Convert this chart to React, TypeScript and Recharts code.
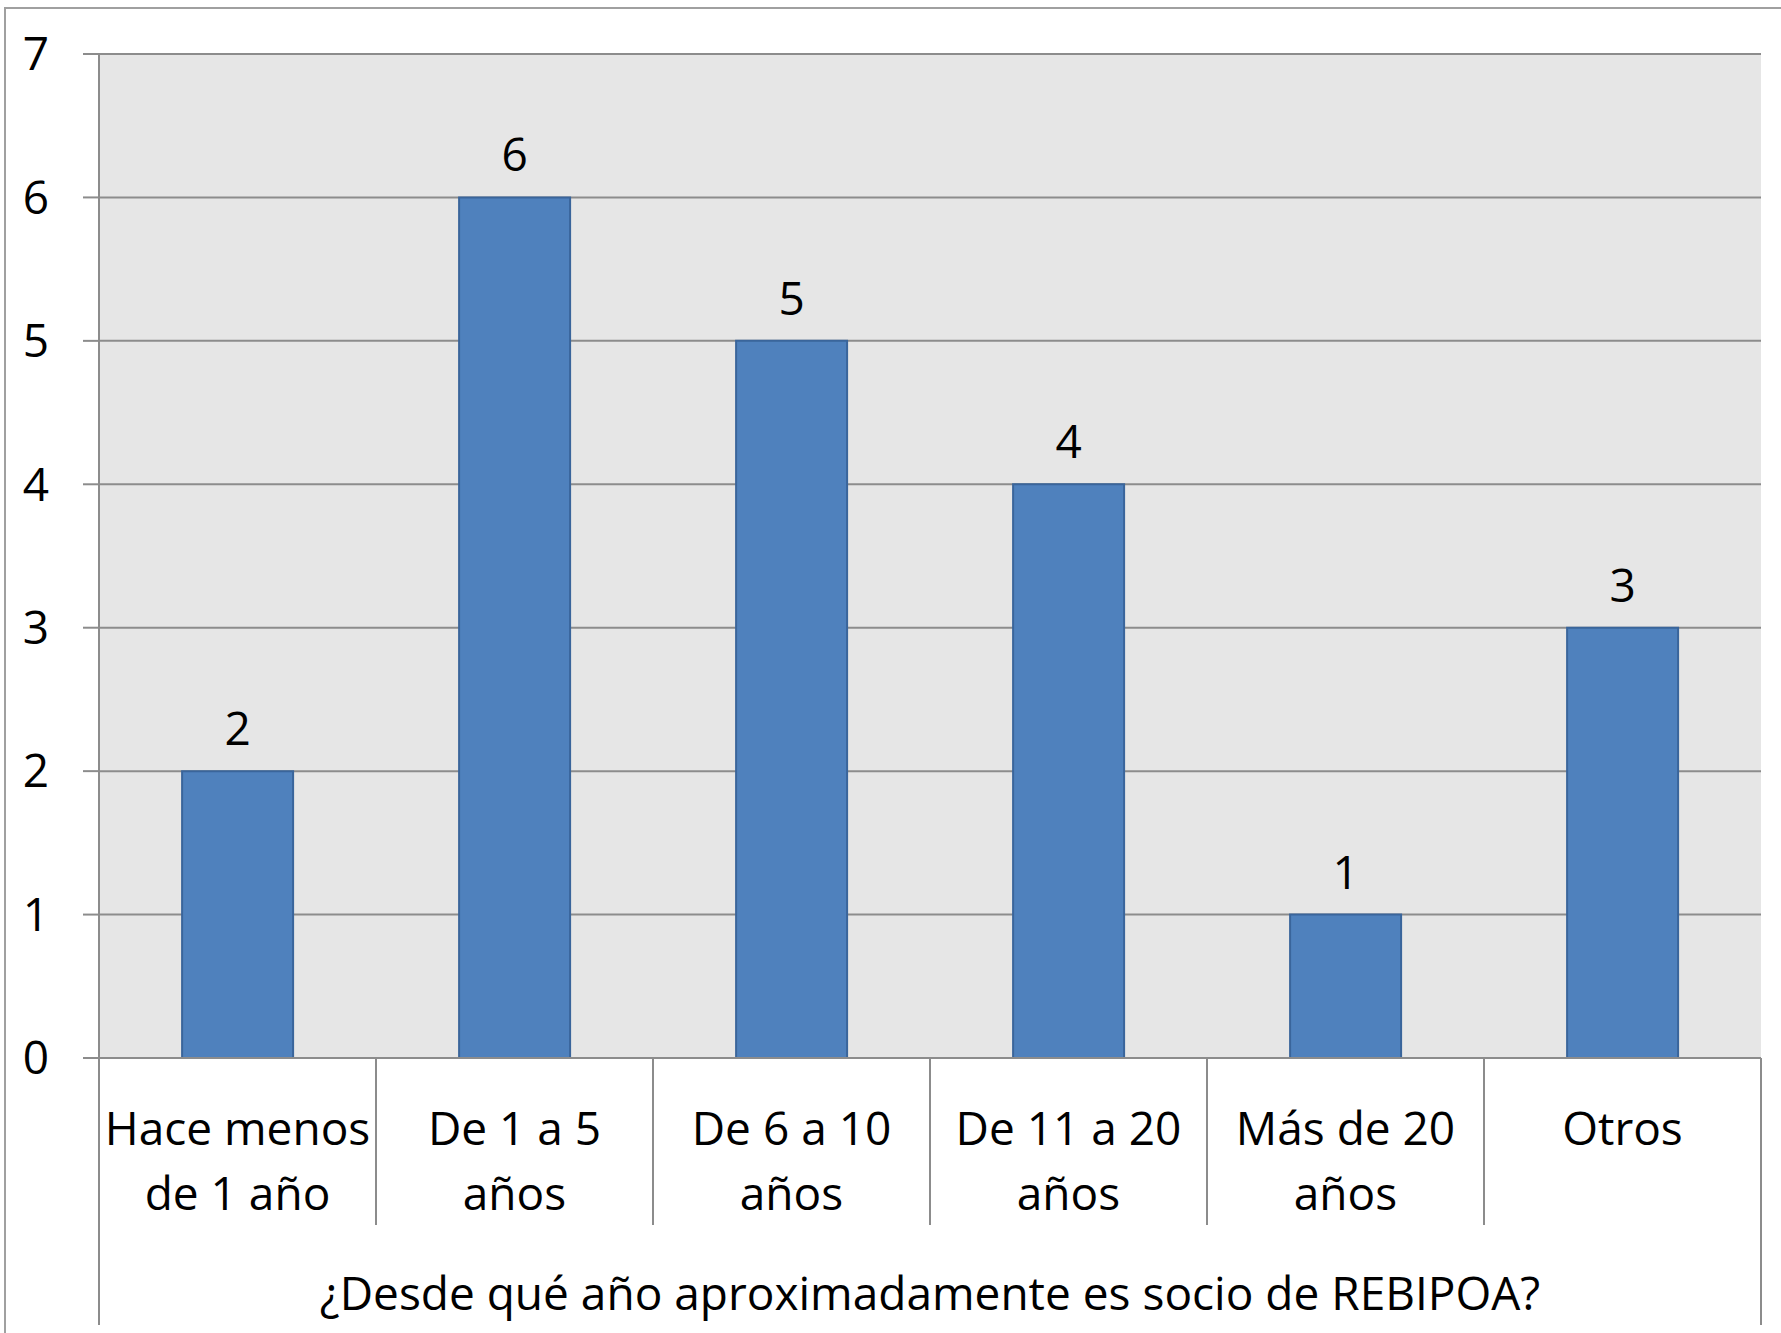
import { BarChart, Bar, XAxis, YAxis, CartesianGrid, LabelList } from "recharts";

const categories = [
  "Hace menos de 1 año",
  "De 1 a 5 años",
  "De 6 a 10 años",
  "De 11 a 20 años",
  "Más de 20 años",
  "Otros",
];
const categoryLines: string[][] = [
  ["Hace menos", "de 1 año"],
  ["De 1 a 5", "años"],
  ["De 6 a 10", "años"],
  ["De 11 a 20", "años"],
  ["Más de 20", "años"],
  ["Otros"],
];
const counts = [2, 6, 5, 4, 1, 3];
const yTicks = [0, 1, 2, 3, 4, 5, 6, 7];
const axisTitle = "¿Desde qué año aproximadamente es socio de REBIPOA?";

const W = 1781;
const H = 1333;
const PLOT_LEFT = 99;
const PLOT_RIGHT = 1761;
const PLOT_TOP = 54;
const PLOT_BOTTOM = 1058;
const PLOT_W = PLOT_RIGHT - PLOT_LEFT;
const GRID = "#8c8c8c";
const FONT = 46;

const data = categories.map((c, i) => ({ name: c, value: counts[i] }));

function CategoryTick(props: any) {
  const { x, payload } = props;
  const idx = props.index ?? payload.index;
  const band = PLOT_W / categories.length;
  const left = x - band / 2;
  const lines = categoryLines[idx] || [payload.value];
  const last = idx === categories.length - 1;
  return (
    <g>
      <line x1={left} x2={left} y1={PLOT_BOTTOM} y2={idx === 0 ? 1325 : 1225} stroke={GRID} strokeWidth={2} />
      {last && (
        <line x1={left + band} x2={left + band} y1={PLOT_BOTTOM} y2={1325} stroke={GRID} strokeWidth={2} />
      )}
      {lines.map((l, i) => (
        <text key={i} x={x} y={1145 + i * 65} textAnchor="middle" fontSize={FONT} fill="#000">
          {l}
        </text>
      ))}
    </g>
  );
}

export default function App() {
  return (
    <div style={{ position: "absolute", left: 0, top: 0, width: W, height: H, background: "#fff", fontFamily: "'Open Sans', sans-serif", overflow: "hidden" }}>
      <div style={{ position: "absolute", left: 4, top: 7, width: W, height: H, borderTop: "2px solid #a0a0a0", borderLeft: "2px solid #a0a0a0" }} />
      <BarChart
        width={W}
        height={H}
        data={data}
        margin={{ top: PLOT_TOP, right: W - PLOT_RIGHT, left: 0, bottom: 0 }}
        barCategoryGap="30%"
        style={{ position: "absolute", left: 0, top: 0 }}
      >
        <CartesianGrid vertical={false} fill="#e6e6e6" stroke={GRID} strokeWidth={2} />
        <XAxis
          dataKey="name"
          interval={0}
          height={H - PLOT_BOTTOM}
          axisLine={{ stroke: GRID, strokeWidth: 2 }}
          tickLine={false}
          tick={<CategoryTick />}
          label={{ value: axisTitle, position: "insideBottom", offset: 23, fontSize: FONT, fill: "#000" }}
        />
        <YAxis
          width={PLOT_LEFT}
          domain={[0, 7]}
          ticks={yTicks}
          interval={0}
          axisLine={{ stroke: GRID, strokeWidth: 2 }}
          tickLine={{ stroke: GRID, strokeWidth: 2 }}
          tickSize={16}
          tickMargin={34}
          tick={{ fontSize: FONT, fill: "#000" }}
        />
        <Bar dataKey="value" fill="#4f81bd" stroke="#3a659b" strokeWidth={2} isAnimationActive={false}>
          <LabelList dataKey="value" position="top" offset={26} fontSize={FONT} fill="#000" />
        </Bar>
      </BarChart>
    </div>
  );
}
